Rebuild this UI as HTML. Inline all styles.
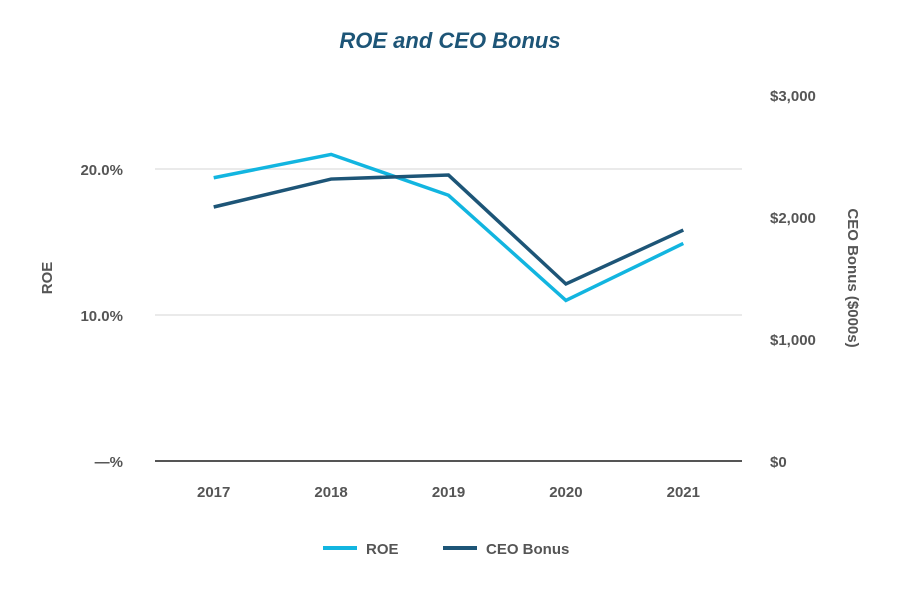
<!DOCTYPE html>
<html><head><meta charset="utf-8"><style>
body{margin:0;background:#fff;}
svg text{font-family:"Liberation Sans",sans-serif;}
</style></head><body>
<svg id="chart" width="900" height="600" xmlns="http://www.w3.org/2000/svg">
<text x="450" y="48" text-anchor="middle" font-size="22" font-weight="bold" font-style="italic" fill="#1d5577">ROE and CEO Bonus</text>
<g id="grid"></g><g id="axes"></g><g id="series"></g>
<text transform="translate(52,278) rotate(-90)" text-anchor="middle" font-size="15" font-weight="bold" fill="#555">ROE</text>
<text transform="translate(848,278) rotate(90)" text-anchor="middle" font-size="15" font-weight="bold" fill="#555">CEO Bonus ($000s)</text>
<g>
<line x1="323" y1="548" x2="357" y2="548" stroke="#12b5e0" stroke-width="4"/>
<text x="366" y="554" font-size="15" font-weight="bold" fill="#555">ROE</text>
<line x1="443" y1="548" x2="477" y2="548" stroke="#1d5577" stroke-width="4"/>
<text x="486" y="554" font-size="15" font-weight="bold" fill="#555">CEO Bonus</text>
</g>
</svg>
<script>
const categories=["2017","2018","2019","2020","2021"];
const roeValues=[19.4,21.0,18.2,11.0,14.9];
const bonusValues=[2082,2311,2344,1451,1893];
const leftTicks=[0,10,20];
const leftTickLabels=["—%","10.0%","20.0%"];
const rightTicks=[0,1000,2000,3000];
const rightTickLabels=["$0","$1,000","$2,000","$3,000"];
const NS="http://www.w3.org/2000/svg";
const x0=155,x1=742,yBase=461;
const band=(x1-x0)/categories.length;
const xPos=i=>x0+band*(i+0.5);
const yL=v=>yBase-v*14.6;
const yR=v=>yBase-v*0.122;
function mk(tag,attrs,parent){const e=document.createElementNS(NS,tag);for(const k in attrs)e.setAttribute(k,attrs[k]);parent.appendChild(e);return e;}
const grid=document.getElementById('grid'),axes=document.getElementById('axes'),ser=document.getElementById('series');
leftTicks.forEach((t,i)=>{
  if(t!==0){const l=mk('line',{x1:x0,x2:x1,y1:yL(t),y2:yL(t),stroke:'#e3e3e3','stroke-width':1.5},grid);
  
  }
  const tx=mk('text',{x:123,y:yL(t)+6,'text-anchor':'end','font-size':15,'font-weight':'bold',fill:'#555'},axes);
  tx.textContent=leftTickLabels[i];
  
  
});
rightTicks.forEach((t,i)=>{
  const tx=mk('text',{x:770,y:yR(t)+6,'font-size':15,'font-weight':'bold',fill:'#555'},axes);
  tx.textContent=rightTickLabels[i];
  
  
});
const base=mk('line',{x1:x0,x2:x1,y1:yBase,y2:yBase,stroke:'#555','stroke-width':2},axes);


categories.forEach((c,i)=>{
  const tx=mk('text',{x:xPos(i),y:497,'text-anchor':'middle','font-size':15,'font-weight':'bold',fill:'#555'},axes);
  tx.textContent=c;
  
  
});
const p1=mk('polyline',{points:roeValues.map((v,i)=>xPos(i)+','+yL(v)).join(' '),fill:'none',stroke:'#12b5e0','stroke-width':3.5},ser);


const p2=mk('polyline',{points:bonusValues.map((v,i)=>xPos(i)+','+yR(v)).join(' '),fill:'none',stroke:'#1d5577','stroke-width':3.5},ser);


</script>
</body></html>
